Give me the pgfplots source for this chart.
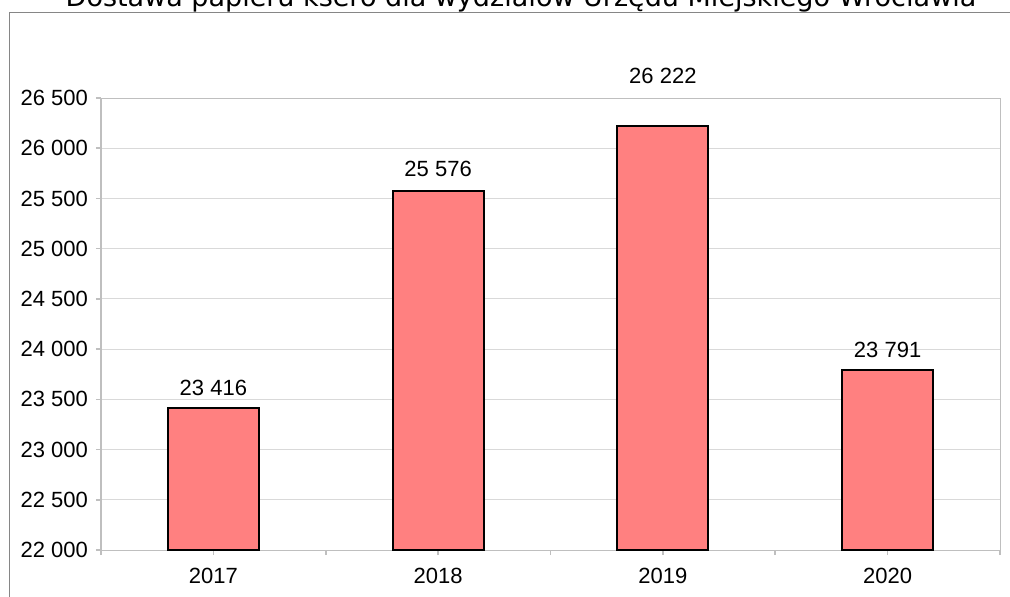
\documentclass[border=0pt]{standalone}
\usepackage{fontspec}
\setmainfont{Liberation Sans}
\newfontfamily\titlefont{DejaVu Sans}
\usepackage{pgfplots}
\pgfplotsset{compat=1.18}

\definecolor{barfill}{RGB}{255,128,128}
\definecolor{axgray}{RGB}{191,191,191}
\definecolor{gridgray}{RGB}{217,217,217}
\definecolor{framegray}{RGB}{134,134,134}

\begin{document}
\begin{tikzpicture}
% page is 1010x596 px at 0.5pt per px
\path[use as bounding box, clip] (0,0) rectangle (505pt,298pt);

% chart frame and title (cut at top, as in the original)
\draw[framegray, line width=0.5pt] (4.5pt,-2pt) -- (4.5pt,291.75pt) -- (510pt,291.75pt);
\node[anchor=base, inner sep=0pt] at (260.5pt,294.5pt)
  {\titlefont\fontsize{13.5}{15}\selectfont Dostawa papieru ksero dla wydziałów Urzędu Miejskiego Wrocławia};

\begin{axis}[
    at={(50.5pt,23pt)}, anchor=south west,
    scale only axis,
    width=449.5pt, height=226pt,
    xmin=-0.5, xmax=3.5,
    ymin=22000, ymax=26500,
    clip=false,
    scaled y ticks=false,
    axis line style={axgray, line width=0.5pt},
    x axis line style={line width=1.2pt},
    xtick={0,1,2,3},
    xticklabels={2017,2018,2019,2020},
    extra x ticks={-0.5,0.5,1.5,2.5,3.5},
    extra x tick labels={},
    extra x tick style={grid=none},
    ytick={22000,22500,23000,23500,24000,24500,25000,25500,26000,26500},
    yticklabels={22 000,22 500,23 000,23 500,24 000,24 500,25 000,25 500,26 000,26 500},
    tick align=outside,
    major tick length=2.5pt,
    tick style={axgray, line width=0.8pt},
    xtick pos=bottom, ytick pos=left,
    ymajorgrids=true,
    major grid style={gridgray, line width=0.5pt},
    ticklabel style={font=\fontsize{11}{13}\selectfont, text=black},
    xticklabel style={yshift=-3pt},
    yticklabel style={xshift=-0.5pt},
]
\addplot[ybar, bar width=0.405, fill=barfill, draw=black, line width=1pt]
  coordinates {(0,23416) (1,25576) (2,26222) (3,23791)};

% value labels, placed where the original has them
\addplot[only marks, mark=none, point meta=explicit symbolic,
    nodes near coords,
    every node near coord/.append style={anchor=center, font=\fontsize{11}{13}\selectfont}]
  coordinates {(0,23613) [23 416] (1,25793) [25 576] (2,26719) [26 222] (3,23991) [23 791]};
\end{axis}
\end{tikzpicture}
\end{document}
